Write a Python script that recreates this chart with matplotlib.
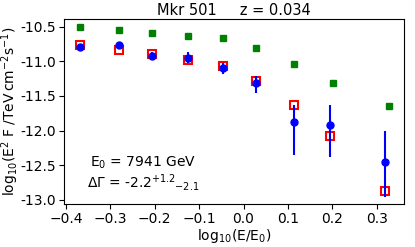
import matplotlib
matplotlib.use('Agg')
import matplotlib.pyplot as plt

# model (green), data points (blue), EBL-corrected (red)
x_green = [-0.368, -0.280, -0.207, -0.125, -0.046, 0.028, 0.114, 0.202, 0.327]
y_green = [-10.51, -10.55, -10.59, -10.63, -10.67, -10.81, -11.04, -11.31, -11.65]

x_data = [-0.368, -0.280, -0.207, -0.125, -0.046, 0.028, 0.114, 0.195, 0.318]
y_red = [-10.77, -10.83, -10.90, -10.98, -11.07, -11.28, -11.63, -12.08, -12.87]
y_blue = [-10.80, -10.76, -10.92, -10.95, -11.09, -11.31, -11.87, -11.92, -12.46]
err_lo = [0.03, 0.03, 0.06, 0.08, 0.10, 0.15, 0.48, 0.46, 0.50]
err_hi = [0.03, 0.03, 0.05, 0.08, 0.07, 0.10, 0.24, 0.29, 0.45]

yticks = [-10.5, -11.0, -11.5, -12.0, -12.5, -13.0]
ytick_labels = ['-10.5', '-11.0', '-11.5', '-12.0', '-12.5', '-13.0']


def main():
    '''spectrum of Mkr 501'''
    fig = plt.figure(figsize=(4.15, 2.47), dpi=100)
    ax = fig.add_subplot(111)
    fig.subplots_adjust(left=0.154, right=0.973, top=0.923, bottom=0.174)

    ax.plot(x_green, y_green, 's', color='green', markersize=5)
    ax.plot(x_data, y_red, 's', markerfacecolor='none',
            markeredgecolor='red', markersize=6, markeredgewidth=1.5)
    ax.errorbar(x_data, y_blue, yerr=[err_lo, err_hi], fmt='o',
                color='blue', markersize=5, elinewidth=1.5, capsize=0)

    ax.set_xlim(-0.4045, 0.361)
    ax.set_ylim(-13.06, -10.39)
    ax.set_xticks([-0.4, -0.3, -0.2, -0.1, 0.0, 0.1, 0.2, 0.3])
    ax.set_yticks(yticks)
    ax.set_yticklabels(ytick_labels)
    ax.tick_params(labelsize=10, pad=2)

    ax.set_title('Mkr 501     z = 0.034', fontsize=10.5, pad=3)
    ax.set_xlabel(r'log$_{10}$(E/E$_0$)', fontsize=10, labelpad=1)
    ax.set_ylabel(r'log$_{10}$(E$^2$ F /TeV$\,$cm$^{-2}$s$^{-1}$)',
                  fontsize=10, labelpad=0)

    ax.text(0.076, 0.222, r'E$_0$ = 7941 GeV', transform=ax.transAxes,
            fontsize=10, va='center')
    ax.text(0.068, 0.119, r'$\Delta\Gamma$ = -2.2$^{+1.2}$$_{-2.1}$',
            transform=ax.transAxes, fontsize=10, va='center')

    fig.savefig('out.png', dpi=100)


if __name__ == '__main__':
    main()
